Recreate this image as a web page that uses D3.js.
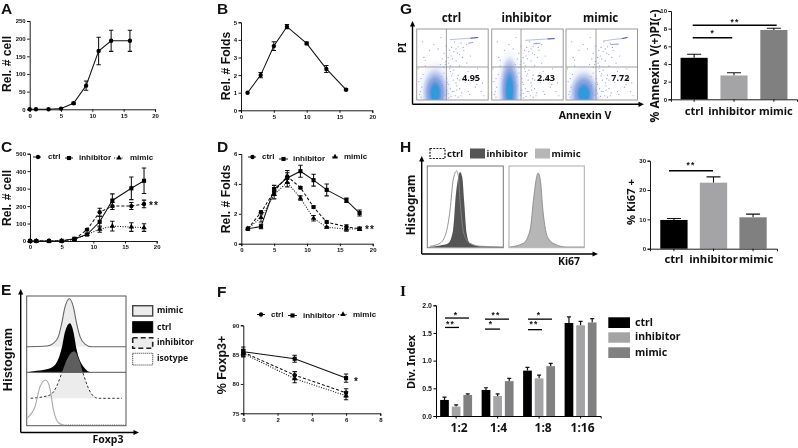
<!DOCTYPE html>
<html><head><meta charset="utf-8">
<script src="https://cdnjs.cloudflare.com/ajax/libs/d3/7.8.5/d3.min.js"></script>
<style>
html,body{margin:0;padding:0;background:#fff;overflow:hidden}
svg{display:block;filter:blur(.3px)}
text{font-family:"Noto Sans",sans-serif;font-weight:700;fill:#111}
.tick text,.tk{font-family:"Liberation Sans",sans-serif;font-weight:700;font-size:6px}
</style></head><body>
<div id="c"></div>
<script>
// ---- growth curves ----
const daysA=[0,1,3,5,7,9,11,13,16];
const cellA=[0,0,0,2,17,67,165,194,194];
const cellAErr=[0,0,0,0,3,13,39,30,30];
const daysB=[1,3,5,7,10,13,16];
const foldB=[1,2,3.65,4.75,3.8,2.35,1.17];
const foldBErr=[0,.15,.25,.12,.08,.2,.05];
const daysC=[0,1,3,5,7,9,11,13,16,18];
const cellCtrl=[0,0,0,1,10,65,165,200,200,212];
const cellCtrlErr=[0,0,0,0,3,5,22,20,20,22];
const cellInh=[0,0,0,1,13,37,110,232,302,345];
const cellInhErr=[0,0,0,0,3,5,30,38,65,73];
const cellMim=[0,0,0,1,8,37,68,85,80,77];
const cellMimErr=[0,0,0,0,2,4,18,28,25,22];
const daysD=[1,3,5,7,9,11,13,16,18];
const foldCtrl=[1,2.1,3.5,4.5,3.75,2.45,1.45,1.12,1.0];
const foldCtrlErr=[0,.1,.25,.4,.08,.08,.08,.15,.12];
const foldInh=[1,1.15,3.65,4.4,4.85,4.25,3.6,2.9,2.05];
const foldInhErr=[0,.15,.25,.35,.4,.4,.4,.15,.2];
const foldMim=[1,1.75,3.3,4.1,3.05,1.7,1.1,.98,.98];
const foldMimErr=[0,.3,.3,.3,.15,.18,.05,.15,.1];
const daysF=[0,3,6];
const foxCtrl=[85.4,81.5,78.5], foxCtrlErr=[.5,.6,.7];
const foxInh=[85.5,84.3,81], foxInhErr=[.8,.6,.7];
const foxMim=[85.2,80.9,78], foxMimErr=[.6,.7,.7];
// ---- bars ----
const groups=["ctrl","inhibitor","mimic"];
const annexin=[4.7,2.7,7.85], annexinErr=[.4,.3,.2];
const ki67=[9.8,22.5,10.7], ki67Err=[.5,2,1.1];
const ratios=["1:2","1:4","1:8","1:16"];
const divCtrl=[.29,.47,.82,1.68], divCtrlErr=[.05,.04,.06,.11];
const divInh=[.17,.36,.68,1.64], divInhErr=[.03,.04,.06,.07];
const divMim=[.38,.63,.9,1.69], divMimErr=[.02,.05,.05,.07];
const barColors=["#000","#a4a4a6","#808080"];
// ---- histograms (x in % of plot width, height in % of peak) ----
const eMimX=[0,20.1,26.8,31.9,35.2,38.6,43,47,50.3,53.7,58.7,65.4,100];
const eMimH=[0,1.5,7,21,48,83,100,83,48,21,5.5,0,0];
const eCtrlX=[0,6.7,20.1,28.5,35.2,38.6,43.6,47,50.3,57,65.4,100];
const eCtrlH=[0,2,6,15,49,83,100,83,46,12,0,0];
const eInhX=[4,23.5,30,35,40,47.7,53,57,65,72,96];
const eInhH=[0,7,25,52,80,100,80,52,10,0,0];
const eIsoX=[0,8.4,13.4,19,23,27,32,37,100];
const eIsoH=[15,41,85,100,85,33,5,0,0];
const hInhX=[0,16.7,27.6,34,37.7,40.8,43,46,48.7,51.8,56,69,100];
const hInhH=[0,2,5,23,71,93,100,93,58,18,5,1,0];
const hCtrlX=[3.5,16.7,24.5,30,34,38.6,40.8,43,48,56,70,100];
const hCtrlH=[1,5,18,49,88,100,94,62,18,5,1,0];
const hMimX=[1,19,28,33,36.4,38.6,41.7,45,51.8,62.7,76,100];
const hMimH=[0,5,23,68,93,100,90,50,12,3,0,0];
// ---- flow plots (percent of plot width / height) ----
const flowNames=["ctrl","inhibitor","mimic"];
const flowValues=["4.95","2.43","7.72"];
const flowCoreX=[26,25,25], flowCoreY=[10,14,9];
const flowCoreRx=[9,7,11], flowCoreRy=[18,28,16];
const flowMidRx=[18,14,20], flowMidRy=[34,48,31];
const flowOuterRx=[25,20,26], flowOuterRy=[50,62,44];
const flowStreakX=[[46,60,75,86],[47,62,78,88],[52,65,78,86]];
const flowStreakY=[[85,86,87,88],[84,85,86,86.5],[83,85,86.5,88]];
const flowStreak2X=[[72,79],[58,68],[62,74]];
const flowStreak2Y=[[80,81],[79,80],[78,79]];
const sparseX=[48,52,55,58,62,50,45,60,66,70,55,49,64,72,78,84,90,68,58,52,47,56,63,74,82,88,94,70,60,42,50,54,44,38,30,24,10,6,12,18,5,8,36,40,65,75,85,92,72,60,57,53,46,41,34,47,51,44,49,42,55,60,46,52,38,43,36,48,57,40,4,7,3,9,2,6,12,47,41,50,38,44,56,35,62,33,45,58];
const sparseY=[62,68,72,75,80,58,52,64,70,78,55,74,60,40,30,22,12,25,35,42,40,20,10,8,18,30,6,52,48,30,12,6,22,66,72,78,60,30,48,70,12,82,58,50,74,62,44,24,12,28,66,82,70,76,88,16,28,9,34,14,24,16,44,12,38,25,20,5,30,7,8,18,26,36,44,4,56,48,54,37,46,60,14,33,6,50,3,4];
// ---- significance ----
const sigI=[[0,1.77,1.6,"*","**"],[1,1.75,1.57,"**","*"],[2,1.75,1.56,"*","**"]];

const W=798,H=448;
const LS='"Liberation Sans",sans-serif';
const svg=d3.select("#c").append("svg").attr("width",W).attr("height",H).attr("viewBox",[0,0,W,H]);
const defs=svg.append("defs");
function radial(id,stops){const g=defs.append("radialGradient").attr("id",id);stops.forEach(s=>g.append("stop").attr("offset",s[0]+"%").attr("stop-color",s[1]).attr("stop-opacity",s[2]));}
radial("core",[[0,"#27a0dc",1],[55,"#2f97da",.9],[100,"#4f8fdc",0]]);
radial("mid",[[0,"#4a86d8",.9],[60,"#5f86d8",.65],[100,"#8fa0e4",0]]);
radial("halo",[[0,"#9cace8",.5],[65,"#aebbee",.35],[100,"#dfe4fa",0]]);

function txt(x,y,s,size,o={}){
  const t=svg.append("text").attr("x",x).attr("y",y).text(s).attr("font-size",size)
    .attr("text-anchor",o.anchor||"start").attr("dominant-baseline",o.base||"auto");
  if(o.rot) t.attr("transform",`rotate(${o.rot},${x},${y})`);
  if(o.family) t.style("font-family",o.family);
  if(o.fill) t.style("fill",o.fill);
  if(o.ls) t.style("letter-spacing",o.ls+"px");
  return t;
}
const ylab=(x,y,s,size)=>txt(x,y,s,size,{rot:-90,anchor:"middle",base:"middle"});
const ylabA=(x,y,s,size)=>txt(x,y,s,size,{rot:-90,anchor:"middle",family:LS});
const ctr=(x,y,s,size,o={})=>txt(x,y,s,size,Object.assign({anchor:"middle",base:"middle"},o));
function arrow(x1,y1,x2,y2){
  svg.append("line").attr("x1",x1).attr("y1",y1).attr("x2",x2).attr("y2",y2).attr("stroke","#000").attr("stroke-width",1.4);
  const a=Math.atan2(y2-y1,x2-x1)*180/Math.PI;
  svg.append("path").attr("d","M3,0L-2.5,-2.6L-2.5,2.6Z").attr("transform",`translate(${x2},${y2}) rotate(${a})`).attr("fill","#000");
}
function axes(g,x,y,xt,yt,y0,x0){
  const ax=d3.axisBottom(x).tickValues(xt).tickFormat(d3.format("d")).tickSize(2.5).tickPadding(1.5);
  const ay=d3.axisLeft(y).tickValues(yt).tickFormat(d3.format("d")).tickSize(2.5).tickPadding(1.5);
  const gx=g.append("g").attr("transform",`translate(0,${y0})`).call(ax);
  const gy=g.append("g").attr("transform",`translate(${x0},0)`).call(ay);
  [gx,gy].forEach(a=>{a.selectAll("path,line").attr("stroke","#000").attr("stroke-width",.9)});
}
const sym={c:d3.symbol(d3.symbolCircle,15),s:d3.symbol(d3.symbolSquare,17),t:d3.symbol(d3.symbolTriangle,13)};
const dash={c:"3,2",s:null,t:"1,1.5"};
function mark(g,k,px,py){g.append("path").attr("d",sym[k]()).attr("transform",`translate(${px},${py})`).attr("fill","#000");}
function series(g,x,y,xs,vs,es,k,dashKey){
  const pts=xs.map((d,i)=>[d,vs[i],es[i]]);
  g.append("path").datum(pts).attr("fill","none").attr("stroke","#111").attr("stroke-width",1.05)
   .attr("stroke-dasharray",dash[dashKey===undefined?k:dashKey])
   .attr("d",d3.line().x(d=>x(d[0])).y(d=>y(d[1])));
  pts.forEach(p=>{
    if(p[2]>0){
      const px=x(p[0]);
      g.append("path").attr("d",`M${px},${y(p[1]-p[2])}V${y(p[1]+p[2])}M${px-2.2},${y(p[1]-p[2])}h4.4M${px-2.2},${y(p[1]+p[2])}h4.4`).attr("stroke","#111").attr("stroke-width",1.05).attr("fill","none");
    }
    mark(g,k,x(p[0]),y(p[1]));
  });
}
function legendItem(x1,x2,y,k,tx,label,fs){
  svg.append("line").attr("x1",x1).attr("x2",x2).attr("y1",y).attr("y2",y).attr("stroke","#111").attr("stroke-width",1).attr("stroke-dasharray",dash[k]);
  mark(svg,k,(x1+x2)/2,y);
  txt(tx,y,label,fs,{base:"middle",family:LS});
}
function lineChart(o){
  const g=svg.append("g");
  const x=d3.scaleLinear().domain(o.xd).range(o.xr);
  const y=d3.scaleLinear().domain(o.yd).range(o.yr);
  axes(g,x,y,o.xt,o.yt,o.yr[0],o.xr[0]);
  o.series.forEach(s=>series(g,x,y,o.xs,s[0],s[1],s[2],s[3]));
}
// Panel letters
[["A",1,14.2],["B",217,14.2],["C",1,152],["D",217,152],["G",400,14.2],["H",400,152],["E",1,295],["F",217,297]].forEach(d=>txt(d[1],d[2],d[0],15.5,{family:LS}));
txt(400,296,"I",15.5,{family:"Liberation Serif"});

// A
lineChart({xd:[0,20],xr:[29.7,155],yd:[0,250],yr:[109.3,21],xt:d3.range(0,21,5),yt:d3.range(0,251,50),xs:daysA,series:[[cellA,cellAErr,"c",null]]});
ylabA(11.2,64,"Rel. # cell",12.2);
// B
lineChart({xd:[0,20],xr:[241,372.3],yd:[0,5],yr:[110.3,22.3],xt:d3.range(0,21,5),yt:d3.range(0,6),xs:daysB,series:[[foldB,foldBErr,"c",null]]});
ylabA(230,66,"Rel. # Folds",12.2);
// C
lineChart({xd:[0,20],xr:[30,156.7],yd:[0,500],yr:[241,153.7],xt:d3.range(0,21,5),yt:d3.range(0,501,100),xs:daysC,series:[[cellCtrl,cellCtrlErr,"c"],[cellInh,cellInhErr,"s"],[cellMim,cellMimErr,"t"]]});
ylabA(11.2,198,"Rel. # cell",12.2);
legendItem(33,43,157,"c",48,"ctrl",8);legendItem(65,73,158,"s",79,"inhibitor",8);legendItem(114,124,158,"t",130,"mimic",8);
ctr(154,206,"**",10,{family:LS,ls:1});
// D
lineChart({xd:[0,20],xr:[241.3,372.7],yd:[0,6],yr:[243.7,154],xt:[0,5,10,15,20],yt:[0,2,4,6],xs:daysD,series:[[foldCtrl,foldCtrlErr,"c"],[foldInh,foldInhErr,"s"],[foldMim,foldMimErr,"t"]]});
ylabA(229.5,199,"Rel. # Folds",12.2);
legendItem(248,257,157,"c",262,"ctrl",8);legendItem(279,288,159,"s",293,"inhibitor",8);legendItem(332,338,157,"t",344,"mimic",8);
ctr(370,230,"**",10,{family:LS,ls:1});
// F
lineChart({xd:[0,8],xr:[243.3,380.3],yd:[75,90],yr:[413.3,325.3],xt:[0,2,4,6,8],yt:[75,80,85,90],xs:daysF,series:[[foxCtrl,foxCtrlErr,"c"],[foxInh,foxInhErr,"s"],[foxMim,foxMimErr,"t"]]});
ylabA(225.5,365,"% Foxp3+",12.5);
legendItem(257,265,314.5,"c",271,"ctrl",8);legendItem(288,297,315.5,"s",303,"inhibitor",8);legendItem(338,348,314.5,"t",353,"mimic",8);
ctr(356,382,"*",10,{family:LS});

// Histograms
function hist(xScale,base,peak,xs,hs,o){
  const pts=xs.map((d,i)=>[d,hs[i]]);
  const h=d3.scaleLinear().domain([0,100]).range([base,base-peak]);
  const g=svg.append("g");
  if(o.clip) g.attr("clip-path",`url(#${o.clip})`);
  if(o.fill) g.append("path").datum(pts).attr("fill",o.fill).attr("d",d3.area().curve(d3.curveMonotoneX).x(d=>xScale(d[0])).y0(base).y1(d=>h(d[1])));
  if(o.stroke) g.append("path").datum(pts).attr("fill","none").attr("stroke",o.stroke).attr("stroke-width",o.sw||1).attr("stroke-dasharray",o.dash||null).attr("d",d3.line().curve(d3.curveMonotoneX).x(d=>xScale(d[0])).y(d=>h(d[1])));
}
// E
const ex=d3.scaleLinear().domain([0,100]).range([26.7,126]);
svg.append("rect").attr("x",26.7).attr("y",296).attr("width",99.3).attr("height",129.7).attr("fill","none").attr("stroke","#555").attr("stroke-width",1);
defs.append("clipPath").attr("id","abv").append("rect").attr("x",26).attr("y",296).attr("width",100).attr("height",76.3);
defs.append("clipPath").attr("id","blw").append("rect").attr("x",26).attr("y",373).attr("width",100).attr("height",52);
hist(ex,346.7,48,eMimX,eMimH,{fill:"#ececec"});
hist(ex,346.7,48,eMimX,eMimH,{stroke:"#666",sw:1.1});
hist(ex,398.3,47,eInhX,eInhH,{fill:"#ececec"});
hist(ex,372.3,49,eCtrlX,eCtrlH,{fill:"#000"});
hist(ex,398.3,47,eInhX,eInhH,{fill:"#5e5e5e",clip:"abv"});
hist(ex,398.3,47,eInhX,eInhH,{stroke:"#333",dash:"2.5,2",clip:"blw"});
svg.append("line").attr("x1",26.7).attr("x2",126).attr("y1",372.3).attr("y2",372.3).attr("stroke","#555").attr("stroke-width",1);
hist(ex,425,45,eIsoX.slice(0,8),eIsoH.slice(0,8),{stroke:"#aaa",sw:1.1});
hist(ex,425,45,eIsoX.slice(7),eIsoH.slice(7),{stroke:"#666",dash:"1,1.2",sw:1});
arrow(20.7,432.5,20.7,292);arrow(20.7,432.5,136,432.5);
ylabA(11.7,359.5,"Histogram",12.8);ctr(108,440,"Foxp3",10.5);
[[305.7,10.3,"#ececec","#444",null,1.4,"mimic"],[321.7,11,"#000","#000",null,1,"ctrl"],[337.7,10.6,"#ececec","#222","5,3",1.6,"inhibitor"],[353.3,11.7,"#fff","#333","1,1",1.1,"isotype"]].forEach(d=>{
  svg.append("rect").attr("x",132.7).attr("y",d[0]).attr("width",20).attr("height",d[1]).attr("fill",d[2]).attr("stroke",d[3]).attr("stroke-dasharray",d[4]).attr("stroke-width",d[5]);
  txt(157,d[0]+d[1]/2,d[6],8.5,{base:"middle"});
});

// G flow plots
const flowLeft=[416.7,491.7,566], flowW=71.5, flowTop=29, flowBot=100, flowVX=[41.5,41,42], flowHY=46.5;
flowNames.forEach((n,i)=>{
  const x=d3.scaleLinear().domain([0,100]).range([flowLeft[i],flowLeft[i]+flowW]);
  const y=d3.scaleLinear().domain([0,100]).range([flowBot,flowTop]);
  const clip="fc"+i;
  defs.append("clipPath").attr("id",clip).append("rect").attr("x",x(0)).attr("y",flowTop).attr("width",flowW).attr("height",flowBot-flowTop);
  const g=svg.append("g").attr("clip-path",`url(#${clip})`);
  const blob=(rx,ry,fill)=>g.append("ellipse").attr("cx",x(flowCoreX[i])).attr("cy",y(flowCoreY[i])).attr("rx",x(rx)-x(0)).attr("ry",y(0)-y(ry)).attr("fill",fill);
  sparseX.forEach((sx,j)=>g.append("circle").attr("cx",x(sx)).attr("cy",y(sparseY[j])).attr("r",.6).attr("fill","#7f90dc").attr("opacity",.9));
  blob(flowOuterRx[i],flowOuterRy[i],"url(#halo)");
  blob(flowMidRx[i],flowMidRy[i],"url(#mid)");
  blob(flowCoreRx[i],flowCoreRy[i],"url(#core)");
  const ln=d3.line().x(d=>x(d[0])).y(d=>y(d[1]));
  const sp=flowStreakX[i].map((d,j)=>[d,flowStreakY[i][j]]);
  g.append("path").datum(sp).attr("fill","none").attr("stroke","#a4aedc").attr("stroke-width",.8).attr("d",ln);
  g.append("path").datum(sp.slice(2)).attr("fill","none").attr("stroke","#4a5cb0").attr("stroke-width",1).attr("d",ln);
  g.append("path").datum(flowStreak2X[i].map((d,j)=>[d,flowStreak2Y[i][j]])).attr("fill","none").attr("stroke","#7f8cc8").attr("stroke-width",.8).attr("d",ln);
  svg.append("rect").attr("x",x(0)).attr("y",flowTop).attr("width",flowW).attr("height",flowBot-flowTop).attr("fill","none").attr("stroke","#999").attr("stroke-width",1);
  svg.append("line").attr("x1",x(flowVX[i])).attr("x2",x(flowVX[i])).attr("y1",flowTop).attr("y2",flowBot).attr("stroke","#888").attr("stroke-width",.8);
  svg.append("line").attr("x1",x(0)).attr("x2",x(100)).attr("y1",y(flowHY)).attr("y2",y(flowHY)).attr("stroke","#888").attr("stroke-width",.8);
  ctr(x(48.5),19,n,11.5);
  ctr(x(76),78.5,flowValues[i],9);
});
arrow(412.5,104.3,412.5,24);arrow(412.5,104.3,641,104.3);
ylab(403,48,"PI",10.5);ctr(585,116.5,"Annexin V",10.5);

// bar helper
function barChart(o){
  const g=svg.append("g");
  const x=d3.scaleBand().domain(o.cats).range(o.xr).paddingInner(o.pad).paddingOuter(o.padOut);
  const y=d3.scaleLinear().domain(o.yd).range(o.yr);
  o.vals.forEach((v,i)=>{
    const c=o.cats[i],px=x(c)+x.bandwidth()/2;
    g.append("path").attr("d",`M${px},${y(v)}V${y(v+o.errs[i])}M${px-7},${y(v+o.errs[i])}h14`).attr("stroke","#111").attr("stroke-width",1.1).attr("fill","none");
    g.append("rect").attr("x",x(c)).attr("y",y(v)).attr("width",x.bandwidth()).attr("height",y(0)-y(v)).attr("fill",barColors[i]);
  });
  const ax=d3.axisBottom(x).tickSize(2.5).tickFormat("");
  const gx=g.append("g").attr("transform",`translate(0,${o.yr[0]})`).call(ax);
  const gy=g.append("g").attr("transform",`translate(${o.xr[0]},0)`).call(d3.axisLeft(y).tickValues(o.yt).tickFormat(d3.format("d")).tickSize(2.5).tickPadding(1.5));
  [gx,gy].forEach(a=>a.selectAll("path,line").attr("stroke","#000").attr("stroke-width",.9));
  o.cats.forEach((c,i)=>ctr(x(c)+x.bandwidth()/2+(o.dx[i]||0),o.catY,c,o.catSize));
  return {x,y};
}
function sig(y,x1,x2,val,s,sx,sy,lw){
  svg.append("line").attr("x1",x1).attr("x2",x2).attr("y1",y(val)).attr("y2",y(val)).attr("stroke","#000").attr("stroke-width",lw||1.5);
  ctr(sx,sy,s,8.5,{family:LS,ls:1.2});
}
// G bars
const gb=barChart({cats:groups,vals:annexin,errs:annexinErr,xr:[671,797],pad:.32,padOut:.24,yd:[0,10],yr:[99.3,11],yt:[0,2,4,6,8,10],catY:111.5,catSize:11,dx:[0,-2,2]});
sig(gb.y,692.7,776.7,8.38,"**",735,22.5);
sig(gb.y,692.7,732.3,6.98,"*",712.7,34);
ylab(656,66,"% Annexin V(+)PI(-)",12);
// H hist
const hx1=d3.scaleLinear().domain([0,100]).range([427.3,503.3]);
const hx2=d3.scaleLinear().domain([0,100]).range([509,584.3]);
hist(hx1,247,75,hInhX,hInhH,{fill:"#555"});
hist(hx1,247,76,hCtrlX,hCtrlH,{stroke:"#888",sw:.9});
hist(hx2,247,74,hMimX,hMimH,{fill:"#b6b6b6",stroke:"#8a8a8a",sw:.9});
svg.append("rect").attr("x",427.3).attr("y",166).attr("width",76).attr("height",81.7).attr("fill","none").attr("stroke","#777");
svg.append("rect").attr("x",509).attr("y",166).attr("width",75.3).attr("height",81.7).attr("fill","none").attr("stroke","#aaa");
arrow(421.7,254,421.7,159);arrow(421.7,254,595,254);
ylab(412,205,"Histogram",11.5);ctr(569,262.5,"Ki67",10.5);
svg.append("rect").attr("x",430).attr("y",148.5).attr("width",15).attr("height",10).attr("fill","#fff").attr("stroke","#222").attr("stroke-width",1.2).attr("stroke-dasharray","2,1.2");
txt(447,154,"ctrl",9.5,{base:"middle"});
svg.append("rect").attr("x",470).attr("y",148.5).attr("width",15).attr("height",10).attr("fill","#555");
txt(486.5,154,"inhibitor",9.5,{base:"middle"});
svg.append("rect").attr("x",535).attr("y",148.5).attr("width",15).attr("height",10).attr("fill","#b6b6b6");
txt(551.5,154,"mimic",9.5,{base:"middle"});
// H bars
const hb=barChart({cats:groups,vals:ki67,errs:ki67Err,xr:[650,777],pad:.31,padOut:.26,yd:[0,30],yr:[248.7,160.7],yt:[0,10,20,30],catY:260,catSize:11.2,dx:[0,0,3]});
sig(hb.y,669,713,26.6,"**",691,165.5);
ylab(632,202,"% Ki67 +",11.2);

// I
(function(){
  const g=svg.append("g");
  const x0=d3.scaleBand().domain(ratios).range([436,600.7]).paddingInner(.23).paddingOuter(.1);
  const x1=d3.scaleBand().domain(groups).range([0,x0.bandwidth()]).paddingInner(.25);
  const y=d3.scaleLinear().domain([0,2]).range([416,305.3]);
  [[divCtrl,divCtrlErr],[divInh,divInhErr],[divMim,divMimErr]].forEach((s,k)=>{
    ratios.forEach((r,i)=>{
      const px=x0(r)+x1(groups[k]),w=x1.bandwidth(),v=s[0][i],e=s[1][i];
      g.append("path").attr("d",`M${px+w/2},${y(v)}V${y(v+e)}M${px+w/2-2},${y(v+e)}h4`).attr("stroke","#111").attr("stroke-width",1.2).attr("fill","none");
      g.append("rect").attr("x",px).attr("y",y(v)).attr("width",w).attr("height",y(0)-y(v)).attr("fill",barColors[k]);
    });
  });
  const gx=g.append("g").attr("transform","translate(0,416)").call(d3.axisBottom(x0).tickSize(2.5).tickFormat(""));
  const gy=g.append("g").attr("transform","translate(436,0)").call(d3.axisLeft(y).tickValues([0,.5,1,1.5,2]).tickFormat(d3.format(".1f")).tickSize(2.5).tickPadding(1.5));
  gy.selectAll("text").style("font-size","7px");
  [gx,gy].forEach(a=>a.selectAll("path,line").attr("stroke","#000").attr("stroke-width",1));
  const dxI=[3,1,4,2];
  ratios.forEach((r,i)=>ctr(x0(r)+x0.bandwidth()/2+dxI[i],428.5,r,12));
  const startX=[445,485,528], topW=[24,24,24], lowW=[14,15,14];
  const starTop=[456,496,539], starLow=[450.5,491,534];
  sigI.forEach((s,i)=>{
    const l=startX[i];
    sig(y,l,l+topW[i],s[1],s[3],starTop[i],315.5,1.3);
    sig(y,l,l+lowW[i],s[2],s[4],starLow[i],325,1.3);
  });
})();
ylab(411.5,362,"Div. Index",11);
[[317.3,10.7,0,"ctrl"],[332.3,10.4,1,"inhibitor"],[347.3,10.7,2,"mimic"]].forEach(d=>{
  svg.append("rect").attr("x",608.3).attr("y",d[0]).attr("width",21.7).attr("height",d[1]).attr("fill",barColors[d[2]]);
  txt(635,d[0]+d[1]/2,d[3],10.5,{base:"middle"});
});
</script>
</body></html>
